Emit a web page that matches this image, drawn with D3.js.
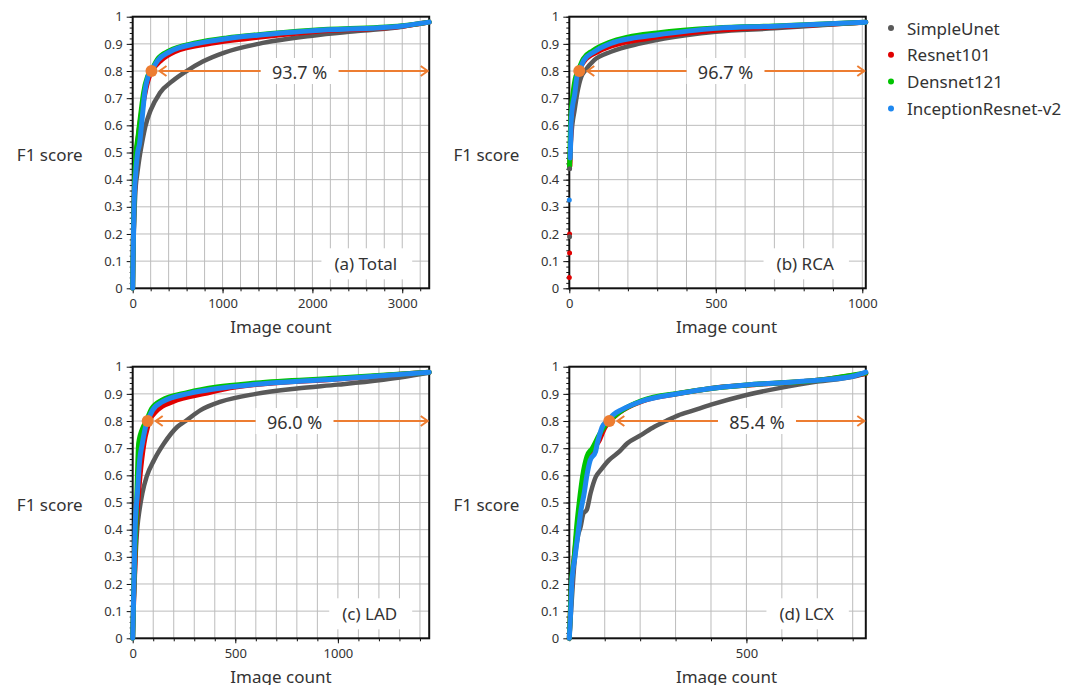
<!DOCTYPE html>
<meta charset="utf-8">
<style>
body { margin: 0; background: #fff; }
text { font-family: "Noto Sans", "DejaVu Sans", sans-serif; fill: #333; }
.axis text { font-size: 13px; }
.axis line { stroke: #111; }
.grid line { stroke: #bcbcbc; stroke-width: 1; }
.frame { fill: none; stroke: #111; stroke-width: 2; }
.curve { fill: none; stroke-linecap: round; stroke-linejoin: round; }
.title { font-size: 17px; }
.note { font-size: 18px; }
.legend text { font-size: 17px; }
</style>
<body></body>
<script src="https://d3js.org/d3.v7.min.js"></script>
<script>

// series + colours
var seriesNames = ["SimpleUnet", "Resnet101", "Densnet121", "InceptionResnet-v2"];
var seriesColors = ["#595959", "#e00000", "#00c400", "#1e88f0"];

// one entry per panel
var panelLabels = ["(a) Total", "(b) RCA", "(c) LAD", "(d) LCX"];
var panelTotals = [3300, 1012, 1445, 837];
var cutoffCounts = [209, 34, 73, 113];
var cutoffScore = 0.8;
var percentLabels = ["93.7 %", "96.7 %", "96.0 %", "85.4 %"];
var xTickValues = [[0, 1000, 2000, 3000], [0, 500, 1000], [0, 500, 1000], [500]];
var xGridSteps = [200, 100, 100, 100];
var yTickValues = [0, 0.1, 0.2, 0.3, 0.4, 0.5, 0.6, 0.7, 0.8, 0.9, 1];

// curves: [image count, F1 score]
var totalSimpleUnet = [[0, 0], [5, 0.1], [12, 0.2], [22, 0.3], [35, 0.38], [50, 0.42], [75, 0.48], [103, 0.534], [140, 0.595], [200, 0.656], [300, 0.718], [450, 0.765], [600, 0.8], [780, 0.835], [1020, 0.868], [1400, 0.9], [2000, 0.93], [2500, 0.947], [3000, 0.963], [3300, 0.98]];
var totalResnet101 = [[0, 0], [3, 0.1], [8, 0.2], [14, 0.3], [26, 0.4], [45, 0.5], [70, 0.58], [100, 0.65], [138, 0.72], [180, 0.775], [215, 0.8], [318, 0.84], [467, 0.871], [870, 0.902], [1281, 0.92], [2000, 0.945], [3000, 0.965], [3300, 0.98]];
var totalDensnet121 = [[0, 0], [3, 0.1], [8, 0.2], [14, 0.3], [22, 0.4], [38, 0.5], [60, 0.56], [95, 0.656], [120, 0.718], [165, 0.779], [205, 0.8], [275, 0.843], [405, 0.874], [715, 0.904], [1050, 0.922], [1400, 0.934], [2000, 0.95], [3000, 0.967], [3300, 0.98]];
var totalInceptionResnet = [[0, 0], [4, 0.1], [9, 0.2], [15, 0.31], [33, 0.42], [55, 0.5], [77, 0.534], [96, 0.595], [114, 0.656], [133, 0.718], [170, 0.779], [207, 0.8], [281, 0.84], [411, 0.871], [725, 0.902], [1059, 0.92], [1392, 0.932], [2000, 0.948], [3000, 0.966], [3300, 0.98]];

var rcaSimpleUnet = [[1, 0.44], [3, 0.5], [6, 0.55], [10, 0.6], [18, 0.656], [27, 0.718], [41, 0.779], [53, 0.8], [85, 0.84], [142, 0.871], [244, 0.902], [324, 0.92], [500, 0.945], [700, 0.957], [1012, 0.98]];
var rcaResnet101 = [[2, 0.45], [4, 0.52], [6, 0.6], [10, 0.66], [15, 0.72], [22, 0.76], [32, 0.8], [50, 0.835], [97, 0.871], [176, 0.902], [267, 0.92], [500, 0.95], [700, 0.962], [1012, 0.98]];
var rcaDensnet121 = [[1, 0.45], [3, 0.55], [5, 0.62], [8, 0.67], [13, 0.72], [20, 0.77], [30, 0.8], [48, 0.845], [80, 0.875], [135, 0.905], [200, 0.925], [300, 0.94], [500, 0.958], [700, 0.966], [1012, 0.98]];
var rcaInceptionResnet = [[3, 0.48], [5, 0.55], [6, 0.6], [9, 0.65], [19, 0.718], [26, 0.779], [34, 0.8], [50, 0.84], [85, 0.871], [142, 0.902], [210, 0.92], [290, 0.932], [500, 0.957], [700, 0.965], [1012, 0.98]];
// stray low points in RCA: [series index, image count, F1 score]
var rcaLowPoints = [[1, 0, 0.04], [1, 1, 0.13], [1, 1, 0.2], [0, 1, 0.19], [3, 0, 0.325], [2, 1, 0.45], [0, 1, 0.44]];

var ladSimpleUnet = [[0, 0], [3, 0.1], [8, 0.2], [14, 0.3], [18, 0.36], [23, 0.411], [33, 0.472], [47, 0.534], [68, 0.595], [104, 0.656], [153, 0.718], [218, 0.779], [258, 0.8], [331, 0.84], [429, 0.871], [600, 0.9], [800, 0.92], [1000, 0.934], [1200, 0.95], [1445, 0.978]];
var ladResnet101 = [[0, 0], [4, 0.12], [8, 0.2], [12, 0.3], [16, 0.4], [25, 0.5], [36, 0.6], [55, 0.718], [73, 0.779], [81, 0.8], [120, 0.84], [195, 0.871], [356, 0.902], [500, 0.925], [1000, 0.955], [1445, 0.98]];
var ladDensnet121 = [[0, 0], [3, 0.1], [6, 0.2], [10, 0.3], [15, 0.4], [19, 0.5], [23, 0.6], [29, 0.718], [52, 0.779], [66, 0.8], [92, 0.845], [140, 0.876], [270, 0.905], [410, 0.925], [600, 0.94], [1000, 0.958], [1445, 0.98]];
var ladInceptionResnet = [[0, 0], [3, 0.1], [6, 0.2], [9, 0.312], [12, 0.411], [23, 0.534], [34, 0.656], [47, 0.718], [63, 0.779], [73, 0.8], [97, 0.84], [146, 0.871], [276, 0.902], [414, 0.92], [600, 0.935], [1000, 0.955], [1445, 0.98]];

var lcxSimpleUnet = [[0, 0], [5, 0.1], [10, 0.2], [16, 0.3], [25, 0.38], [32, 0.411], [40, 0.46], [49, 0.472], [60, 0.534], [75, 0.595], [89, 0.62], [112, 0.656], [141, 0.687], [164, 0.718], [202, 0.748], [240, 0.779], [273, 0.8], [306, 0.82], [353, 0.84], [400, 0.86], [500, 0.896], [600, 0.923], [700, 0.945], [800, 0.963], [837, 0.975]];
var lcxResnet101 = [[0, 0], [3, 0.1], [7, 0.2], [14, 0.3], [22, 0.4], [32, 0.5], [40, 0.6], [60, 0.68], [85, 0.73], [100, 0.775], [115, 0.8], [140, 0.83], [210, 0.875], [313, 0.902], [400, 0.92], [500, 0.932], [700, 0.95], [837, 0.975]];
var lcxDensnet121 = [[0, 0], [3, 0.1], [6, 0.2], [14, 0.3], [20, 0.4], [28, 0.5], [38, 0.6], [50, 0.67], [65, 0.7], [85, 0.75], [105, 0.79], [120, 0.81], [150, 0.84], [205, 0.875], [313, 0.903], [400, 0.92], [500, 0.933], [700, 0.95], [837, 0.977]];
var lcxInceptionResnet = [[0, 0], [2, 0.05], [4, 0.1], [7, 0.2], [16, 0.3], [21, 0.35], [27, 0.411], [33, 0.472], [42, 0.534], [49, 0.595], [59, 0.656], [74, 0.687], [79, 0.718], [84, 0.742], [93, 0.779], [107, 0.8], [126, 0.825], [145, 0.84], [200, 0.871], [313, 0.902], [398, 0.92], [500, 0.933], [600, 0.941], [700, 0.95], [800, 0.965], [837, 0.98]];

var panelCurves = [
  [totalSimpleUnet, totalResnet101, totalDensnet121, totalInceptionResnet],
  [rcaSimpleUnet, rcaResnet101, rcaDensnet121, rcaInceptionResnet],
  [ladSimpleUnet, ladResnet101, ladDensnet121, ladInceptionResnet],
  [lcxSimpleUnet, lcxResnet101, lcxDensnet121, lcxInceptionResnet]
];
var panelLowPoints = [[], rcaLowPoints, [], []];

// layout
var panelX = [132.7, 569.3, 132.7, 569.3];
var panelY = [16.7, 16.7, 366.7, 366.7];
var plotW = 296.5, plotH = 271.6;
var noteCenter = [0.563, 0.527, 0.546, 0.633]; // fraction of plot width
var xTitleShift = [0, 9, 0, 9];
var orange = "#ed7d31";

var svg = d3.select("body").append("svg")
    .attr("width", 1085)
    .attr("height", 685);

panelLabels.forEach(function(label, i) {
  var g = svg.append("g")
      .attr("transform", "translate(" + panelX[i] + "," + panelY[i] + ")");

  var x = d3.scaleLinear().domain([0, panelTotals[i]]).range([0, plotW]);
  var y = d3.scaleLinear().domain([0, 1]).range([plotH, 0]);

  // grid
  var grid = g.append("g").attr("class", "grid");
  grid.selectAll(".gv")
      .data(d3.range(xGridSteps[i], panelTotals[i], xGridSteps[i]))
    .enter().append("line")
      .attr("x1", function(d) { return x(d); })
      .attr("x2", function(d) { return x(d); })
      .attr("y1", 0).attr("y2", plotH);
  grid.selectAll(".gh")
      .data(yTickValues.slice(1, -1))
    .enter().append("line")
      .attr("x1", 0).attr("x2", plotW)
      .attr("y1", function(d) { return y(d); })
      .attr("y2", function(d) { return y(d); });

  // axes (minor + major ticks)
  g.append("g").attr("class", "axis")
      .call(d3.axisLeft(y).tickValues(d3.range(0, 1.001, 0.02)).tickSize(3).tickFormat(""));
  g.append("g").attr("class", "axis")
      .call(d3.axisLeft(y).tickValues(yTickValues).tickSize(6).tickPadding(4).tickFormat(d3.format("~g")));
  g.append("g").attr("class", "axis")
      .attr("transform", "translate(0," + plotH + ")")
      .call(d3.axisBottom(x).tickValues(d3.range(0, panelTotals[i], xGridSteps[i])).tickSize(3).tickFormat(""));
  g.append("g").attr("class", "axis")
      .attr("transform", "translate(0," + plotH + ")")
      .call(d3.axisBottom(x).tickValues(xTickValues[i]).tickSize(5).tickPadding(5).tickFormat(d3.format("d")));
  g.selectAll(".axis .domain").remove();

  g.append("rect").attr("class", "frame")
      .attr("width", plotW).attr("height", plotH);

  // axis titles
  g.append("text").attr("class", "title")
      .attr("x", -50).attr("y", y(0.5) + 2)
      .attr("text-anchor", "end")
      .attr("dominant-baseline", "central")
      .text("F1 score");
  g.append("text").attr("class", "title")
      .attr("x", plotW / 2 + xTitleShift[i]).attr("y", plotH + 45)
      .attr("text-anchor", "middle")
      .text("Image count");

  // panel label with white box
  var lab = g.append("g");
  var labText = lab.append("text").attr("class", "title")
      .attr("x", plotW - 32).attr("y", plotH - 18)
      .attr("text-anchor", "end")
      .text(label);
  var bb = labText.node().getBBox();
  lab.insert("rect", "text")
      .attr("x", bb.x - 13).attr("y", bb.y - 4)
      .attr("width", bb.width + 28).attr("height", bb.height + 8)
      .attr("fill", "#fff");

  // curves
  var line = d3.line()
      .x(function(d) { return x(d[0]); })
      .y(function(d) { return y(d[1]); })
      .curve(d3.curveMonotoneX);

  panelCurves[i].forEach(function(pts, s) {
    g.append("path")
        .datum(pts)
        .attr("class", "curve")
        .attr("stroke", seriesColors[s])
        .attr("stroke-width", s === 0 ? 4.5 : 5)
        .attr("d", line);
  });

  g.selectAll(".low")
      .data(panelLowPoints[i])
    .enter().append("circle")
      .attr("cx", function(d) { return x(d[1]); })
      .attr("cy", function(d) { return y(d[2]); })
      .attr("r", 2.5)
      .attr("fill", function(d) { return seriesColors[d[0]]; });

  // cutoff annotation
  var cx = x(cutoffCounts[i]), cy = y(cutoffScore);
  var tc = plotW * noteCenter[i];
  var leftEnd = cx + 8, rightEnd = plotW - 1.5;
  var ann = g.append("g")
      .attr("stroke", orange).attr("stroke-width", 2).attr("fill", "none");
  ann.append("rect")
      .attr("x", tc - 39).attr("y", cy - 13)
      .attr("width", 78).attr("height", 26)
      .attr("fill", "#fff").attr("stroke", "none");
  ann.append("line").attr("x1", leftEnd).attr("x2", tc - 39).attr("y1", cy).attr("y2", cy);
  ann.append("line").attr("x1", tc + 39).attr("x2", rightEnd).attr("y1", cy).attr("y2", cy);
  ann.append("path")
      .attr("d", "M" + (leftEnd + 7) + "," + (cy - 5) + "L" + leftEnd + "," + cy + "L" + (leftEnd + 7) + "," + (cy + 5));
  ann.append("path")
      .attr("d", "M" + (rightEnd - 7) + "," + (cy - 5) + "L" + rightEnd + "," + cy + "L" + (rightEnd - 7) + "," + (cy + 5));
  g.append("circle")
      .attr("cx", cx).attr("cy", cy).attr("r", 6)
      .attr("fill", orange);
  g.append("text").attr("class", "note")
      .attr("x", tc).attr("y", cy + 1)
      .attr("text-anchor", "middle")
      .attr("dominant-baseline", "central")
      .text(percentLabels[i]);
});

// legend
var legend = svg.append("g").attr("class", "legend")
    .attr("transform", "translate(891,28)");
var item = legend.selectAll("g")
    .data(seriesNames)
  .enter().append("g")
    .attr("transform", function(d, i) { return "translate(0," + i * 26.8 + ")"; });
item.append("circle")
    .attr("r", 3)
    .attr("fill", function(d, i) { return seriesColors[i]; });
item.append("text")
    .attr("x", 16)
    .attr("dominant-baseline", "central")
    .text(function(d) { return d; });

</script>
